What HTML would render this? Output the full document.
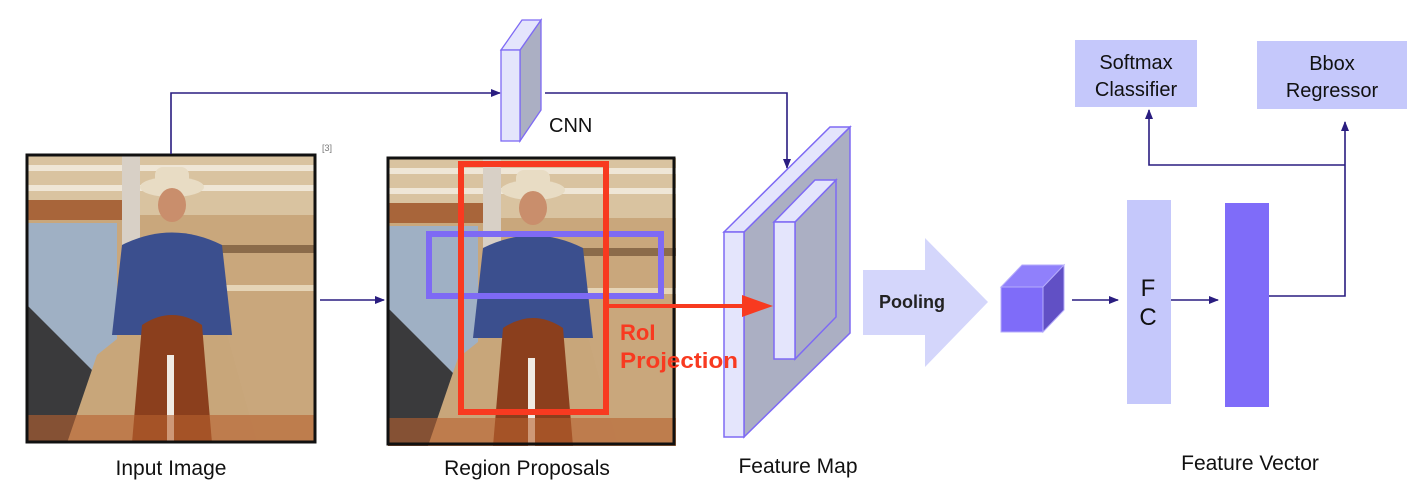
<!DOCTYPE html>
<html><head><style>
html,body{margin:0;padding:0;background:#fff;}
svg{display:block;font-family:"Liberation Sans",sans-serif;}
</style></head><body>
<svg width="1407" height="497" viewBox="0 0 1407 497" xmlns="http://www.w3.org/2000/svg">
<defs>
<marker id="ah" markerWidth="10" markerHeight="8" refX="9" refY="4" orient="auto" markerUnits="userSpaceOnUse"><path d="M0,0 L10,4 L0,8 Z" fill="#2a1d80"/></marker>
<g id="photo">
<rect x="0" y="0" width="288" height="288" fill="#c9a77c"/>
<rect x="0" y="0" width="288" height="60" fill="#d9c3a0"/>
<rect x="0" y="10" width="288" height="6" fill="#efe6d6"/>
<rect x="0" y="30" width="288" height="6" fill="#efe6d6"/>
<rect x="0" y="45" width="100" height="20" fill="#a8653a"/>
<rect x="0" y="68" width="90" height="200" fill="#9fb0c4"/>
<rect x="95" y="0" width="18" height="200" fill="#d8d0c6"/>
<rect x="190" y="90" width="98" height="8" fill="#8b6b4a"/>
<rect x="190" y="130" width="98" height="6" fill="#e5d4b6"/>
<path d="M0,150 L80,230 L60,288 L0,288 Z" fill="#3a3a3c"/>
<ellipse cx="145" cy="32" rx="32" ry="10" fill="#e8dcc4"/>
<rect x="128" y="12" width="34" height="22" rx="8" fill="#e8dcc4"/>
<ellipse cx="145" cy="50" rx="14" ry="17" fill="#c98e6c"/>
<path d="M95,90 Q145,65 195,90 L205,180 L85,180 Z" fill="#3b4f8e"/>
<path d="M70,200 L95,180 L200,180 L230,288 L40,288 Z" fill="#c8a67a"/>
<path d="M115,170 Q145,150 175,170 L185,288 L105,288 Z" fill="#8b3f1d"/>
<rect x="140" y="200" width="7" height="88" fill="#f0ebe4"/>
<rect x="0" y="260" width="288" height="28" fill="#b8602e" opacity="0.6"/>
</g>
</defs>

<g transform="translate(27,155)"><use href="#photo"/></g>
<rect x="27" y="155" width="288" height="287" fill="none" stroke="#111" stroke-width="3"/>
<text x="322" y="151" font-size="9" fill="#777">[3]</text>

<g transform="translate(388,158)"><use href="#photo"/></g>
<rect x="388" y="158" width="286" height="286" fill="none" stroke="#111" stroke-width="3"/>
<rect x="429" y="234" width="232" height="62" fill="none" stroke="#7e6af4" stroke-width="6"/>
<rect x="461" y="164" width="145" height="248" fill="none" stroke="#f83a20" stroke-width="6"/>

<polyline points="171,154 171,93 500,93" fill="none" stroke="#2a1d80" stroke-width="1.6" marker-end="url(#ah)"/>
<line x1="320" y1="300" x2="384" y2="300" stroke="#2a1d80" stroke-width="1.6" marker-end="url(#ah)"/>

<polygon points="520,50 541,20 541,110 520,141" fill="#abafc3" stroke="#7e6af4" stroke-width="1.3"/>
<polygon points="501,50 522,20 541,20 520,50" fill="#e4e5fc" stroke="#7e6af4" stroke-width="1.3"/>
<rect x="501" y="50" width="19" height="91" fill="#e4e5fc" stroke="#7e6af4" stroke-width="1.3"/>
<text x="549" y="132" font-size="20" fill="#111">CNN</text>
<polyline points="545,93 787,93 787,168" fill="none" stroke="#2a1d80" stroke-width="1.6" marker-end="url(#ah)"/>

<polygon points="744,232 850,127 850,333 744,437" fill="#abafc3" stroke="#7e6af4" stroke-width="1.5"/>
<polygon points="724,232 830,127 850,127 744,232" fill="#e4e5fc" stroke="#7e6af4" stroke-width="1.5"/>
<rect x="724" y="232" width="20" height="205" fill="#e4e5fc" stroke="#7e6af4" stroke-width="1.5"/>
<polygon points="795,222 836,180 836,317 795,359" fill="#abafc3" stroke="#7e6af4" stroke-width="1.5"/>
<polygon points="774,222 815,180 836,180 795,222" fill="#e4e5fc" stroke="#7e6af4" stroke-width="1.5"/>
<rect x="774" y="222" width="21" height="137" fill="#e4e5fc" stroke="#7e6af4" stroke-width="1.5"/>

<line x1="606" y1="306" x2="750" y2="306" stroke="#f83a20" stroke-width="4"/>
<path d="M742,295 L773,306 L742,317 Z" fill="#f83a20"/>
<text x="620" y="340" font-size="22" font-weight="bold" fill="#f83a20">RoI</text>
<text x="620" y="368" font-size="22" font-weight="bold" fill="#f83a20" textLength="118" lengthAdjust="spacingAndGlyphs">Projection</text>

<polygon points="863,270 925,270 925,238 988,302 925,367 925,335 863,335" fill="#d4d6fb"/>
<text x="879" y="308" font-size="18" font-weight="bold" fill="#222">Pooling</text>

<polygon points="1001,287 1022,265 1064,265 1043,287" fill="#9080fb" stroke="#b5abfb" stroke-width="1"/>
<polygon points="1043,287 1064,265 1064,310 1043,332" fill="#6150c5" stroke="#b5abfb" stroke-width="1"/>
<rect x="1001" y="287" width="42" height="45" fill="#7f6cf9" stroke="#b5abfb" stroke-width="1"/>

<line x1="1072" y1="300" x2="1118" y2="300" stroke="#2a1d80" stroke-width="1.6" marker-end="url(#ah)"/>
<rect x="1127" y="200" width="44" height="204" fill="#c5c8fb"/>
<text x="1148" y="296" font-size="24" text-anchor="middle" fill="#111">F</text>
<text x="1148" y="325" font-size="24" text-anchor="middle" fill="#111">C</text>
<line x1="1171" y1="300" x2="1218" y2="300" stroke="#2a1d80" stroke-width="1.6" marker-end="url(#ah)"/>
<rect x="1225" y="203" width="44" height="204" fill="#7f6cf9"/>

<polyline points="1269,296 1345,296 1345,122" fill="none" stroke="#2a1d80" stroke-width="1.6" marker-end="url(#ah)"/>
<polyline points="1345,165 1149,165 1149,110" fill="none" stroke="#2a1d80" stroke-width="1.6" marker-end="url(#ah)"/>

<rect x="1075" y="40" width="122" height="67" fill="#c5c8fb"/>
<text x="1136" y="69" font-size="20" text-anchor="middle" fill="#111">Softmax</text>
<text x="1136" y="96" font-size="20" text-anchor="middle" fill="#111">Classifier</text>
<rect x="1257" y="41" width="150" height="68" fill="#c5c8fb"/>
<text x="1332" y="70" font-size="20" text-anchor="middle" fill="#111">Bbox</text>
<text x="1332" y="97" font-size="20" text-anchor="middle" fill="#111">Regressor</text>

<text x="171" y="475" font-size="21" text-anchor="middle" fill="#111">Input Image</text>
<text x="527" y="475" font-size="21" text-anchor="middle" fill="#111">Region Proposals</text>
<text x="798" y="473" font-size="21" text-anchor="middle" fill="#111">Feature Map</text>
<text x="1250" y="470" font-size="21" text-anchor="middle" fill="#111">Feature Vector</text>
</svg>
</body></html>
